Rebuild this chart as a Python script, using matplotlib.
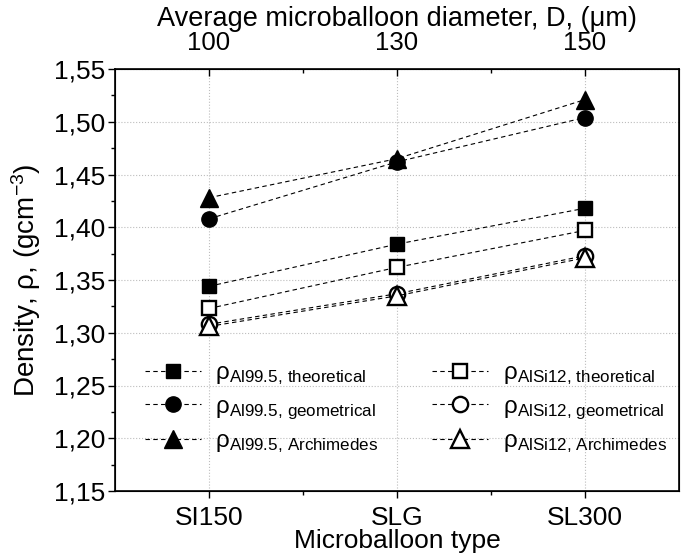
import matplotlib
matplotlib.use('Agg')
import matplotlib.pyplot as plt
from matplotlib.ticker import MultipleLocator, FixedLocator, FuncFormatter

plt.rcParams['font.family'] = ['Liberation Sans', 'DejaVu Sans']
plt.rcParams['mathtext.fontset'] = 'custom'
plt.rcParams['mathtext.rm'] = 'Liberation Sans'
plt.rcParams['mathtext.it'] = 'Liberation Sans:italic'

# data
types = ['SI150', 'SLG', 'SL300']
diameters = ['100', '130', '150']

al_theoretical = [1.344, 1.384, 1.418]
al_geometrical = [1.408, 1.462, 1.504]
al_archimedes = [1.428, 1.465, 1.521]
alsi_theoretical = [1.323, 1.362, 1.397]
alsi_geometrical = [1.308, 1.337, 1.373]
alsi_archimedes = [1.306, 1.335, 1.371]

fig = plt.figure(figsize=(6.83, 5.54), dpi=100)
ax = fig.add_axes([115/683, 1 - 491/554, (679-115)/683, (491-69)/554])

x = list(range(len(types)))
dash = dict(color='black', linestyle='--', dashes=(4, 3), linewidth=0.8)

ax.plot(x, al_theoretical, marker='s', ms=10, mfc='black', mec='black',
        label=r'ρ$_{\mathrm{Al99.5,\,theoretical}}$', **dash)
ax.plot(x, al_geometrical, marker='o', ms=11, mfc='black', mec='black',
        label=r'ρ$_{\mathrm{Al99.5,\,geometrical}}$', **dash)
ax.plot(x, al_archimedes, marker='^', ms=13, mfc='black', mec='black',
        label=r'ρ$_{\mathrm{Al99.5,\,Archimedes}}$', **dash)
ax.plot(x, alsi_theoretical, marker='s', ms=10, mfc='white', mec='black', mew=1.7,
        label=r'ρ$_{\mathrm{AlSi12,\,theoretical}}$', **dash)
ax.plot(x, alsi_geometrical, marker='o', ms=11, mfc='white', mec='black', mew=1.7,
        label=r'ρ$_{\mathrm{AlSi12,\,geometrical}}$', **dash)
ax.plot(x, alsi_archimedes, marker='^', ms=13, mfc='white', mec='black', mew=1.7,
        label=r'ρ$_{\mathrm{AlSi12,\,Archimedes}}$', **dash)

ax.set_xlim(-0.5, 2.5)
ax.set_ylim(1.15, 1.55)

ax.xaxis.set_major_locator(FixedLocator(x))
ax.xaxis.set_minor_locator(FixedLocator([0.5, 1.5]))
ax.set_xticklabels(types)
ax.yaxis.set_major_locator(MultipleLocator(0.05))
ax.yaxis.set_minor_locator(MultipleLocator(0.025))
ax.yaxis.set_major_formatter(FuncFormatter(lambda v, p: f'{v:.2f}'.replace('.', ',')))

ax.tick_params(axis='both', which='major', direction='out', length=5, width=1,
               labelsize=19, top=False, right=False)
ax.tick_params(axis='both', which='minor', direction='out', length=3, width=1,
               top=False, right=False)
ax.tick_params(axis='x', pad=6)
ax.tick_params(axis='y', pad=2)

ax.grid(True, which='major', color='#bdbdbd', linestyle=':', linewidth=0.8)
ax.set_axisbelow(True)

for s in ax.spines.values():
    s.set_linewidth(1.2)

ax.set_xlabel('Microballoon type', fontsize=19, labelpad=-1)
ax.set_ylabel('Density, ρ, (gcm$^{-3}$)', fontsize=20, labelpad=8)

top = ax.twiny()
top.set_xlim(ax.get_xlim())
top.xaxis.set_major_locator(FixedLocator(x))
top.xaxis.set_minor_locator(FixedLocator([0.5, 1.5]))
top.set_xticklabels(diameters)
top.tick_params(axis='x', which='major', direction='in', length=5, width=1, labelsize=18.5, pad=10)
top.tick_params(axis='x', which='minor', direction='in', length=3, width=1)
top.set_xlabel('Average microballoon diameter, D, (μm)', fontsize=19.5, labelpad=4)

ax.legend(loc='lower left', bbox_to_anchor=(0.053, 0.085), ncol=2, frameon=False,
          fontsize=17.5, handlelength=2.3, handletextpad=0.6, columnspacing=2.2,
          labelspacing=0.35, borderaxespad=0, borderpad=0)

fig.savefig('out.png', dpi=100)
